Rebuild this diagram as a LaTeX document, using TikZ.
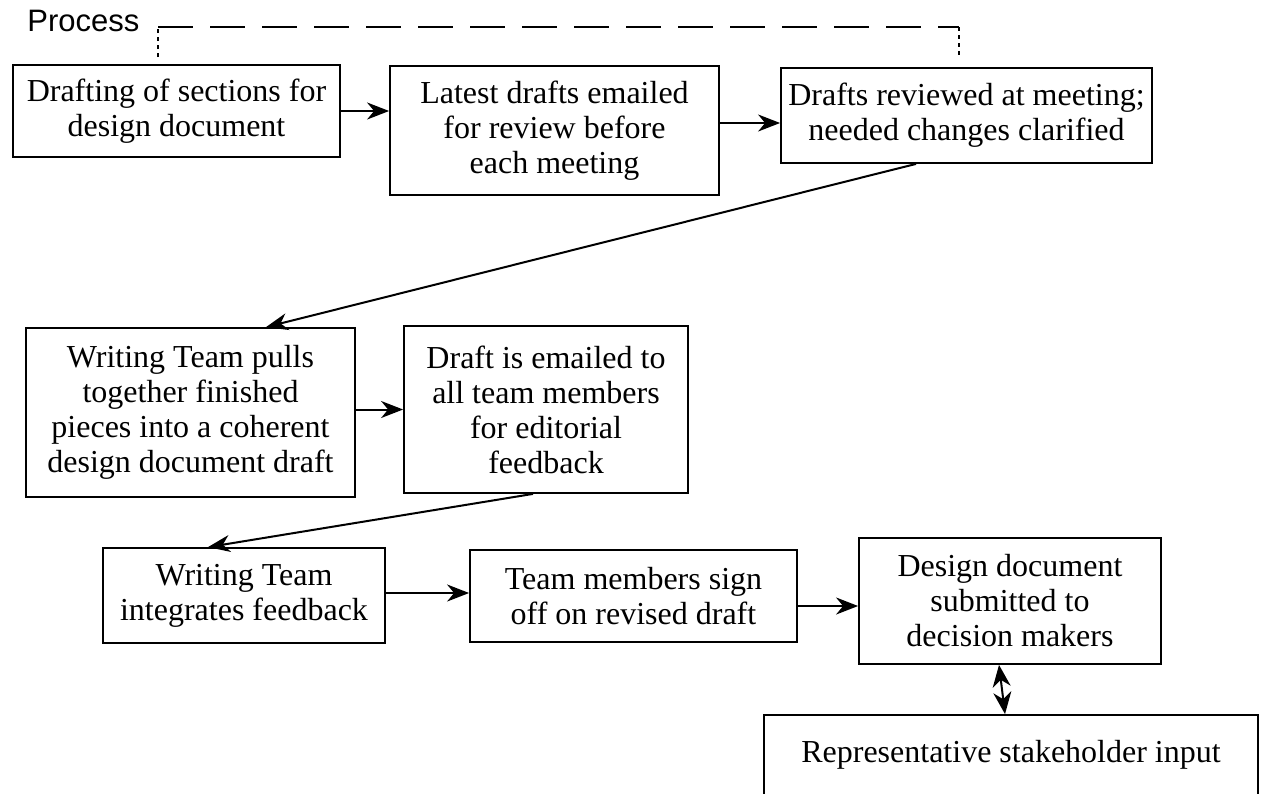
\documentclass[tikz,border=0pt]{standalone}
\usepackage{fontspec}
\setmainfont{Liberation Serif}
\newfontfamily\procfont{Liberation Sans}
\usetikzlibrary{arrows.meta}

\begin{document}
\begin{tikzpicture}[x=0.5pt, y=-0.5pt,
  box/.style={draw, line width=0.9pt, inner sep=0pt, align=center,
    font=\fontsize{16}{17.5}\selectfont},
  arr/.style={line width=1pt, -{Stealth[length=11pt, width=8.5pt, inset=3.5pt]}},
  twoway/.style={line width=1pt, {Stealth[length=11pt, width=9pt, inset=3.5pt]}-{Stealth[length=11pt, width=9pt, inset=3.5pt]}}]

\useasboundingbox (0,0) rectangle (1262,793);
\clip (0,0) rectangle (1262,793);

    % Process bracket over the first row
    \node[anchor=base west, inner sep=0pt, font=\procfont\fontsize{15.5}{17}\selectfont] (proc) at (27,31) {Process};
    \coordinate (pl) at (158,27);
    \coordinate (pr) at (959,27);
    \draw[line width=1.3pt, dash pattern=on 2pt off 2pt] (pl |- 0,57) -- (pl);
    \draw[line width=1pt, dash pattern=on 17.5pt off 8.5pt] (pl) -- (pr);
    \draw[line width=1.3pt, dash pattern=on 2pt off 2pt] (pr) -- (pr |- 0,57);

    % First row
    \node[box, minimum width=163.5pt, minimum height=46pt] (b1) at (176.5,111) {Drafting of sections for\\design document};
    \node[box, minimum width=164.5pt, minimum height=64.5pt] (b2) at (554.5,130.5) {Latest drafts emailed\\for review before\\each meeting};
    \node[box, minimum width=185.5pt, minimum height=47.5pt] (b3) at (966.5,115.5) {Drafts reviewed at meeting;\\needed changes clarified};

    % Second row
    \node[box, minimum width=164.5pt, minimum height=84.5pt] (b4) at (190.5,412.5) {Writing Team pulls\\together finished\\pieces into a coherent\\design document draft};
    \node[box, minimum width=142pt, minimum height=83.5pt] (b5) at (546,409.5) {Draft is emailed to\\all team members\\for editorial\\feedback};

    % Third row
    \node[box, minimum width=141pt, minimum height=47.5pt] (b6) at (244,595.5) {Writing Team\\integrates feedback};
    \node[box, minimum width=163.5pt, minimum height=46pt] (b7) at (633.5,596) {Team members sign\\off on revised draft};
    \node[box, minimum width=151pt, minimum height=63pt] (b8) at (1010,601) {Design document\\submitted to\\decision makers};

    % Stakeholder box (runs off the bottom edge)
    \node[box, minimum width=247pt, minimum height=40pt] (b9) at (1011,755) {Representative stakeholder input};

    % Arrows
    \draw[arr] (b1.east) -- (b1.east -| b2.west);
    \draw[arr] (b2.east |- 0,123) -- (b3.west |- 0,123);
    \draw[arr] (b3.south -| 916,0) -- (b4.north -| 266,0);
    \draw[arr] (b4.east |- b5.west) -- (b5.west);
    \draw[arr] (b5.south -| 533,0) -- (b6.north -| 208,0);
    \draw[arr] (b6.east |- 0,593) -- (b7.west |- 0,593);
    \draw[arr] (b7.east |- 0,606) -- (b8.west |- 0,606);
    \draw[twoway] (b8.south -| 999,0) -- (b9.north -| 1005,0);

\end{tikzpicture}
\end{document}
